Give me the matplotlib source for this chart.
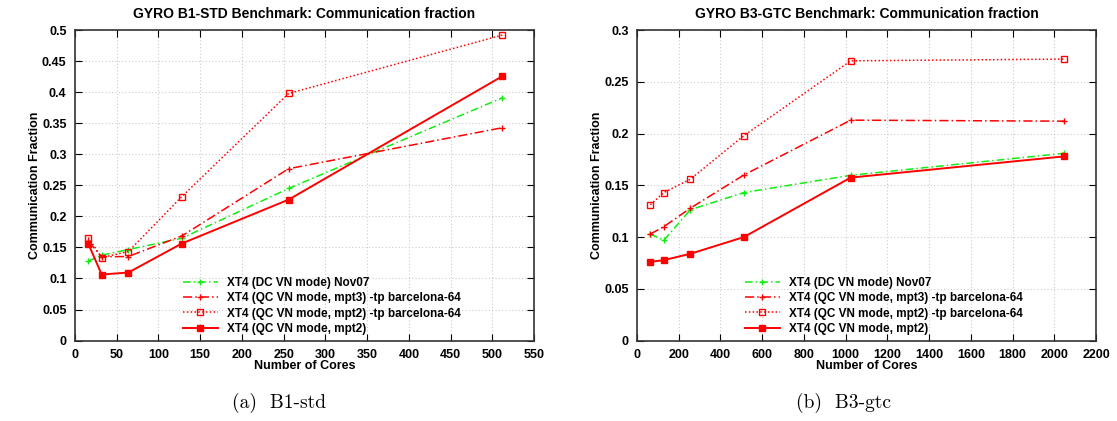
import matplotlib.pyplot as plt

cores_b1 = [16, 32, 64, 128, 256, 512]
dc_b1 = [0.128, 0.1375, 0.1466, 0.1648, 0.245, 0.391]
mpt3_b1 = [0.160, 0.135, 0.1354, 0.1685, 0.2768, 0.3428]
mpt2tp_b1 = [0.166, 0.1338, 0.1434, 0.2318, 0.398, 0.492]
mpt2_b1 = [0.156, 0.1064, 0.1096, 0.1563, 0.227, 0.4257]

cores_b3 = [64, 128, 256, 512, 1024, 2048]
dc_b3 = [0.103, 0.0968, 0.1265, 0.143, 0.1597, 0.181]
mpt3_b3 = [0.103, 0.110, 0.128, 0.160, 0.213, 0.212]
mpt2tp_b3 = [0.1313, 0.143, 0.156, 0.198, 0.2703, 0.272]
mpt2_b3 = [0.0761, 0.0777, 0.0839, 0.100, 0.1575, 0.178]

labels = ["XT4 (DC VN mode) Nov07",
          "XT4 (QC VN mode, mpt3) -tp barcelona-64",
          "XT4 (QC VN mode, mpt2) -tp barcelona-64",
          "XT4 (QC VN mode, mpt2)"]

plt.rcParams['font.family'] = ['Liberation Sans', 'DejaVu Sans']

fig = plt.figure(figsize=(11.17, 4.21), dpi=100)
ax1 = fig.add_axes([0.0671, 0.191, 0.411, 0.7375])
ax2 = fig.add_axes([0.5703, 0.191, 0.411, 0.7375])


def draw(ax, x, dc, mpt3, mpt2tp, mpt2):
    ax.plot(x, dc, color='#11ee11', ls=(0, (5, 2, 1, 2)), lw=1.1, marker='+', ms=5, label=labels[0])
    ax.plot(x, mpt3, color='red', ls=(0, (6, 2, 1, 2)), lw=1.1, marker='+', ms=5, label=labels[1])
    ax.plot(x, mpt2tp, color='red', ls=(0, (1, 1.5)), lw=1.1, marker='s', ms=5, mfc='none', label=labels[2])
    ax.plot(x, mpt2, color='red', ls='-', lw=1.4, marker='s', ms=4, label=labels[3])
    ax.grid(True, color='#cccccc', ls=(0, (1, 2)), lw=0.8)
    ax.tick_params(direction='in', top=True, right=True, labelsize=9, length=5, pad=6)
    for lab in ax.get_xticklabels() + ax.get_yticklabels():
        lab.set_fontweight('bold')
    for s in ax.spines.values():
        s.set_color('#333333')
        s.set_linewidth(1.2)
    ax.set_ylabel("Communication Fraction", fontsize=9, fontweight='bold', labelpad=1)
    ax.set_xlabel("Number of Cores", fontsize=9, fontweight='bold', labelpad=-0.5)
    leg = ax.legend(loc='upper left', frameon=False, fontsize=8.5, handlelength=2.9,
                    handletextpad=0.8, labelspacing=0.28, borderpad=0, borderaxespad=0,
                    bbox_to_anchor=(0.236, 0.205))
    for t in leg.get_texts():
        t.set_fontweight('bold')


draw(ax1, cores_b1, dc_b1, mpt3_b1, mpt2tp_b1, mpt2_b1)
ax1.set_xlim(0, 550)
ax1.set_ylim(0, 0.5)
ax1.set_xticks(range(0, 551, 50))
ax1.set_yticks([0, 0.05, 0.1, 0.15, 0.2, 0.25, 0.3, 0.35, 0.4, 0.45, 0.5])
ax1.set_yticklabels(['0', '0.05', '0.1', '0.15', '0.2', '0.25', '0.3', '0.35', '0.4', '0.45', '0.5'], fontweight='bold')
ax1.set_title("GYRO B1-STD Benchmark: Communication fraction", fontsize=10, fontweight='bold', pad=9)

draw(ax2, cores_b3, dc_b3, mpt3_b3, mpt2tp_b3, mpt2_b3)
ax2.set_xlim(0, 2200)
ax2.set_ylim(0, 0.3)
ax2.set_xticks(range(0, 2201, 200))
ax2.set_yticks([0, 0.05, 0.1, 0.15, 0.2, 0.25, 0.3])
ax2.set_yticklabels(['0', '0.05', '0.1', '0.15', '0.2', '0.25', '0.3'], fontweight='bold')
ax2.set_title("GYRO B3-GTC Benchmark: Communication fraction", fontsize=10, fontweight='bold', pad=9)

fig.text(0.25, 0.043, "(a)  B1-std", fontsize=14, family='cmr10', ha='center', va='center')
fig.text(0.755, 0.043, "(b)  B3-gtc", fontsize=14, family='cmr10', ha='center', va='center')

fig.savefig("out.png", dpi=100)
